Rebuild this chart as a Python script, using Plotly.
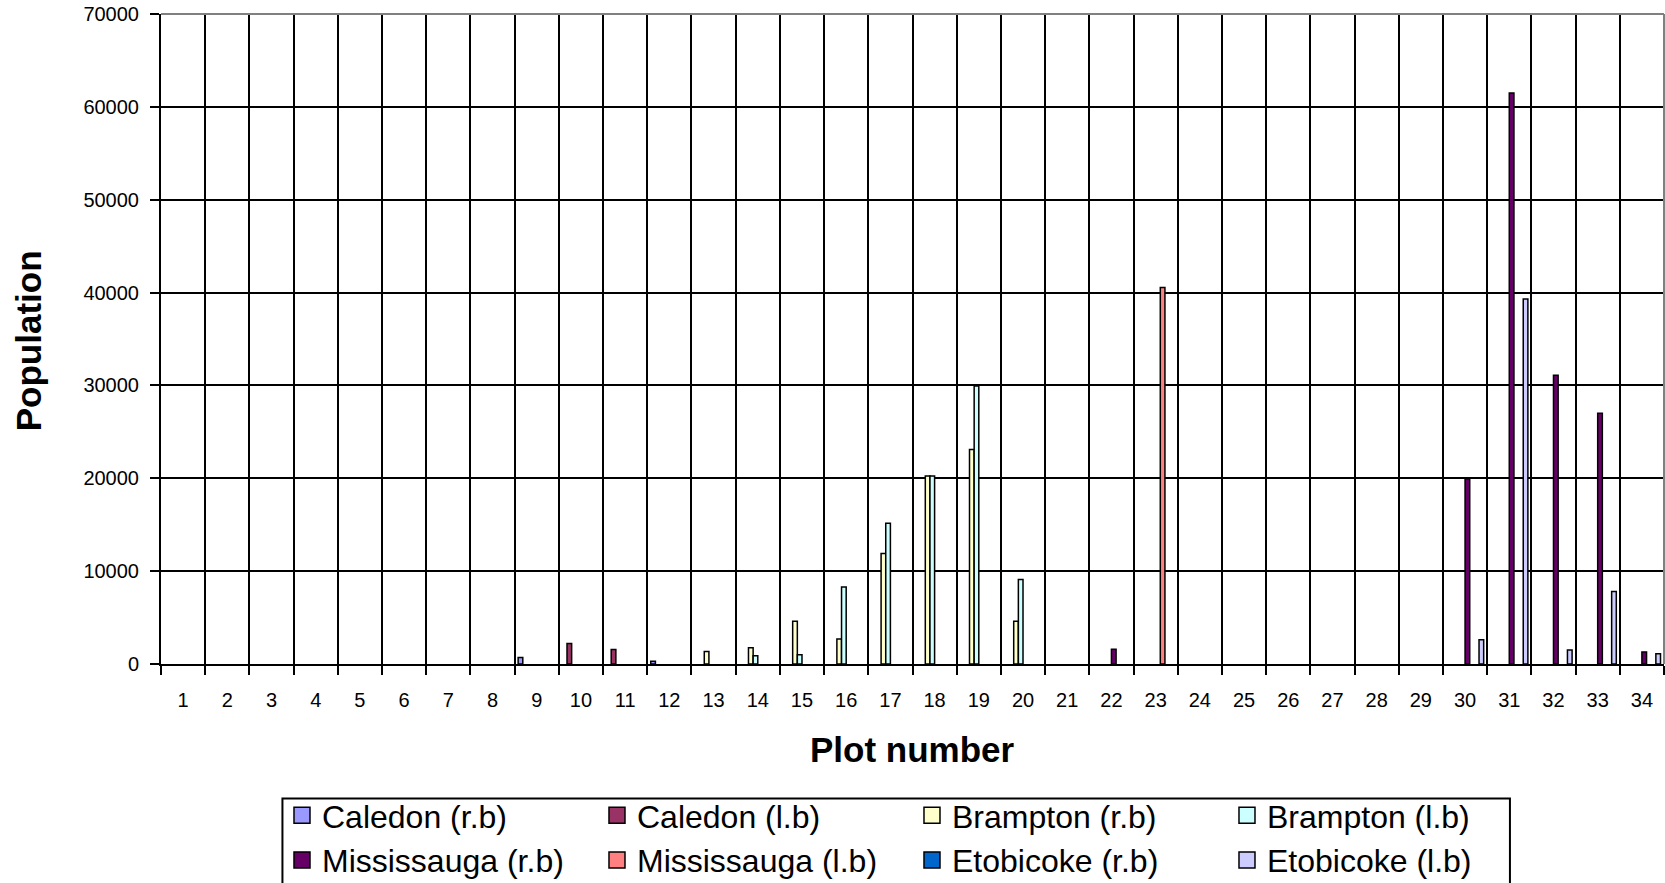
import plotly.graph_objects as go

# ---------------- data ----------------
plot_numbers = [1, 2, 3, 4, 5, 6, 7, 8, 9, 10, 11, 12, 13, 14, 15, 16, 17,
                18, 19, 20, 21, 22, 23, 24, 25, 26, 27, 28, 29, 30, 31, 32, 33, 34]
tick_labels = [str(n) for n in plot_numbers]

series_names = ["Caledon (r.b)", "Caledon (l.b)", "Brampton (r.b)", "Brampton (l.b)",
                "Mississauga (r.b)", "Mississauga (l.b)", "Etobicoke (r.b)", "Etobicoke (l.b)"]

caledon_rb = [0, 0, 0, 0, 0, 0, 0, 0, 700, 0, 0, 300, 0, 0, 0, 0, 0,
              0, 0, 0, 0, 0, 0, 0, 0, 0, 0, 0, 0, 0, 0, 0, 0, 0]
caledon_lb = [0, 0, 0, 0, 0, 0, 0, 0, 0, 2200, 1550, 0, 0, 0, 0, 0, 0,
              0, 0, 0, 0, 0, 0, 0, 0, 0, 0, 0, 0, 0, 0, 0, 0, 0]
brampton_rb = [0, 0, 0, 0, 0, 0, 0, 0, 0, 0, 0, 0, 1350, 1750, 4600, 2700, 11900,
               20250, 23100, 4600, 0, 0, 0, 0, 0, 0, 0, 0, 0, 0, 0, 0, 0, 0]
brampton_lb = [0, 0, 0, 0, 0, 0, 0, 0, 0, 0, 0, 0, 0, 900, 1000, 8300, 15150,
               20250, 29950, 9100, 0, 0, 0, 0, 0, 0, 0, 0, 0, 0, 0, 0, 0, 0]
mississauga_rb = [0, 0, 0, 0, 0, 0, 0, 0, 0, 0, 0, 0, 0, 0, 0, 0, 0,
                  0, 0, 0, 0, 1600, 0, 0, 0, 0, 0, 0, 0, 19950, 61500, 31100, 27000, 1300]
mississauga_lb = [0, 0, 0, 0, 0, 0, 0, 0, 0, 0, 0, 0, 0, 0, 0, 0, 0,
                  0, 0, 0, 0, 0, 40550, 0, 0, 0, 0, 0, 0, 0, 0, 0, 0, 0]
etobicoke_rb = [0, 0, 0, 0, 0, 0, 0, 0, 0, 0, 0, 0, 0, 0, 0, 0, 0,
                0, 0, 0, 0, 0, 0, 0, 0, 0, 0, 0, 0, 0, 0, 0, 0, 0]
etobicoke_lb = [0, 0, 0, 0, 0, 0, 0, 0, 0, 0, 0, 0, 0, 0, 0, 0, 0,
                0, 0, 0, 0, 0, 0, 0, 0, 0, 0, 0, 0, 2600, 39300, 1500, 7800, 1100]

series_values = [caledon_rb, caledon_lb, brampton_rb, brampton_lb,
                 mississauga_rb, mississauga_lb, etobicoke_rb, etobicoke_lb]
series_colors = ["#9999FF", "#993366", "#FFFFCC", "#CCFFFF",
                 "#660066", "#FF8080", "#0066CC", "#CCCCFF"]

y_ticks = [0, 10000, 20000, 30000, 40000, 50000, 60000, 70000]

FONT = "Arial, Liberation Sans, sans-serif"

fig = go.Figure()
for name, vals, col in zip(series_names, series_values, series_colors):
    fig.add_trace(go.Bar(
        x=plot_numbers,
        y=[v if v else None for v in vals],
        name=name, legendgroup=name, showlegend=False,
        marker=dict(color=col, line=dict(color="black", width=1.5)),
    ))
# legend entries with larger square keys (same series, same colours)
for name, col in zip(series_names, series_colors):
    fig.add_trace(go.Scatter(
        x=[None], y=[None], mode="markers", name=name, legendgroup=name,
        marker=dict(symbol="square", size=18, color=col,
                    line=dict(color="black", width=1.5)),
        hoverinfo="skip",
    ))

boundaries = [n - 0.5 for n in plot_numbers] + [plot_numbers[-1] + 0.5]

fig.update_layout(
    width=1665, height=883,
    margin=dict(l=161, r=1, t=14, b=219, autoexpand=False),
    paper_bgcolor="white", plot_bgcolor="white",
    font=dict(family=FONT, color="black"),
    barmode="group", bargap=0.158, bargroupgap=0,
    showlegend=True,
    legend=dict(
        orientation="h", x=0.0805, xanchor="left", y=-0.1908, yanchor="top",
        borderwidth=0, bgcolor="rgba(0,0,0,0)",
        font=dict(family=FONT, size=32, color="black"),
        entrywidth=270, entrywidthmode="pixels", traceorder="normal",
        itemwidth=30,
    ),
    xaxis=dict(
        range=[plot_numbers[0] - 0.5, plot_numbers[-1] + 0.5],
        tickmode="array", tickvals=plot_numbers, ticktext=tick_labels,
        ticks="", showgrid=False, zeroline=False,
        showline=True, linecolor="black", linewidth=2,
        tickfont=dict(family=FONT, size=20, color="black"),
        ticklabelstandoff=17,
        minor=dict(tickmode="array", tickvals=boundaries, showgrid=True,
                   gridcolor="black", gridwidth=1.5, ticks="outside",
                   ticklen=9, tickwidth=2, tickcolor="black"),
    ),
    yaxis=dict(
        range=[0, 70000], tickmode="array", tickvals=y_ticks,
        ticktext=[str(v) for v in y_ticks],
        showgrid=True, gridcolor="black", gridwidth=1.5, zeroline=False,
        ticks="outside", ticklen=9, tickwidth=2, tickcolor="black",
        showline=True, linecolor="black", linewidth=2,
        tickfont=dict(family=FONT, size=20, color="black"),
        ticklabelstandoff=7,
    ),
    shapes=[
        dict(type="line", xref="paper", yref="paper", x0=0, x1=1, y0=1, y1=1,
             line=dict(color="#808080", width=2), layer="above"),
        dict(type="line", xref="paper", yref="paper", x0=1, x1=1, y0=0, y1=1,
             line=dict(color="#808080", width=2), layer="above"),
        # legend frame
        dict(type="rect", xref="paper", yref="paper", x0=0.0808, x1=0.8975,
             y0=-0.2069, y1=-0.45, line=dict(color="black", width=2),
             fillcolor="rgba(0,0,0,0)", layer="above"),
    ],
    annotations=[
        dict(text="<b>Plot number</b>", xref="paper", yref="paper",
             x=0.5, y=-0.1308, xanchor="center", yanchor="middle", showarrow=False,
             font=dict(family=FONT, size=35, color="black")),
        dict(text="<b>Population</b>", xref="paper", yref="paper",
             x=-0.0885, y=0.498, xanchor="center", yanchor="middle", showarrow=False,
             textangle=-90, font=dict(family=FONT, size=35, color="black")),
    ],
)

fig.write_html("out.html")
